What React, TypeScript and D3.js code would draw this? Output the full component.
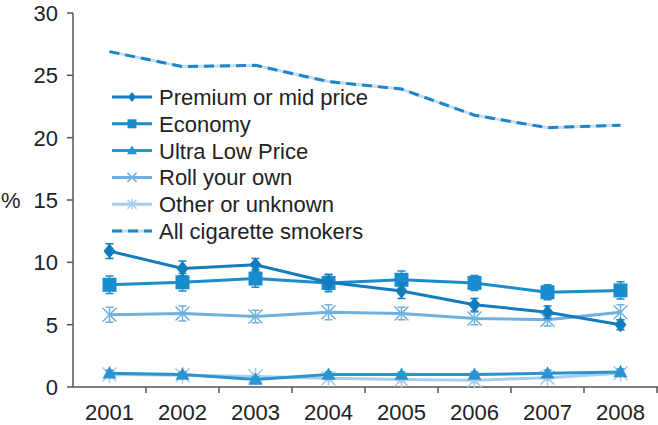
import React from "react";
import * as d3 from "d3";

const years = ["2001", "2002", "2003", "2004", "2005", "2006", "2007", "2008"];
const premium = [10.9, 9.5, 9.8, 8.4, 7.7, 6.6, 6.0, 5.0];
const premiumErr = [0.6, 0.6, 0.5, 0.6, 0.6, 0.5, 0.5, 0.4];
const economy = [8.2, 8.4, 8.7, 8.35, 8.6, 8.35, 7.6, 7.75];
const economyErr = [0.7, 0.7, 0.7, 0.7, 0.7, 0.6, 0.6, 0.7];
const ultraLow = [1.1, 1.0, 0.6, 1.0, 1.0, 1.0, 1.1, 1.2];
const ultraLowErr = [0.25, 0.2, 0.2, 0.2, 0.2, 0.2, 0.25, 0.25];
const rollOwn = [5.8, 5.9, 5.65, 6.0, 5.9, 5.5, 5.4, 6.0];
const rollOwnErr = [0.6, 0.6, 0.5, 0.6, 0.5, 0.5, 0.5, 0.6];
const otherUnknown = [1.0, 0.95, 0.85, 0.7, 0.6, 0.55, 0.75, 1.1];
const otherErr = [0.2, 0.2, 0.2, 0.2, 0.2, 0.2, 0.2, 0.2];
const allSmokers = [26.9, 25.7, 25.8, 24.5, 23.9, 21.8, 20.8, 21.0];
const yTicks = [0, 5, 10, 15, 20, 25, 30];

const legendLabels = [
  "Premium or mid price",
  "Economy",
  "Ultra Low Price",
  "Roll your own",
  "Other or unknown",
  "All cigarette smokers",
];

const W = 658, H = 425;
const left = 73, right = 657, top = 13, bottom = 387;
const FONT = "Liberation Sans, Arial, Helvetica, sans-serif";

function Marker({ type, x, y, color, s }: { type: string; x: number; y: number; color: string; s: number }) {
  if (type === "diamond") {
    return <path d={`M${x},${y - s}L${x + s * 0.8},${y}L${x},${y + s}L${x - s * 0.8},${y}Z`} fill={color} />;
  }
  if (type === "square") {
    return <rect x={x - s} y={y - s} width={2 * s} height={2 * s} fill={color} />;
  }
  if (type === "triangle") {
    return <path d={`M${x},${y - s}L${x + s},${y + s * 0.75}L${x - s},${y + s * 0.75}Z`} fill={color} />;
  }
  if (type === "x") {
    return (
      <path d={`M${x - s},${y - s}L${x + s},${y + s}M${x - s},${y + s}L${x + s},${y - s}`} stroke={color} strokeWidth={1.5} fill="none" />
    );
  }
  if (type === "asterisk") {
    return (
      <path
        d={`M${x - s},${y - s}L${x + s},${y + s}M${x - s},${y + s}L${x + s},${y - s}M${x},${y - s * 1.2}L${x},${y + s * 1.2}`}
        stroke={color}
        strokeWidth={1.5}
        fill="none"
      />
    );
  }
  return null;
}

export default function App() {
  const x = d3.scaleBand<string>().domain(years).range([left, right]).padding(0);
  const cx = (yr: string) => (x(yr) as number) + x.bandwidth() / 2;
  const y = d3.scaleLinear().domain([0, 30]).range([bottom, top]);
  const line = d3
    .line<number>()
    .x((_, i) => cx(years[i]))
    .y((d) => y(d));

  const series = [
    { vals: otherUnknown, err: otherErr, color: "#a9cceb", marker: "asterisk", s: 7 },
    { vals: rollOwn, err: rollOwnErr, color: "#6fb0de", marker: "x", s: 7 },
    { vals: ultraLow, err: ultraLowErr, color: "#2a93d0", marker: "triangle", s: 7 },
    { vals: economy, err: economyErr, color: "#1a8bcb", marker: "square", s: 7 },
    { vals: premium, err: premiumErr, color: "#137cbf", marker: "diamond", s: 7.5 },
  ];

  const legendItems = [
    { marker: "diamond", color: "#137cbf", s: 5 },
    { marker: "square", color: "#1a8bcb", s: 4.5 },
    { marker: "triangle", color: "#2a93d0", s: 5 },
    { marker: "x", color: "#6fb0de", s: 4.5 },
    { marker: "asterisk", color: "#a9cceb", s: 4.5 },
    { marker: "dash", color: "#1c86c8", s: 0 },
  ];

  return (
    <svg width={W} height={H} style={{ display: "block", position: "absolute", left: 0, top: 0 }} fontFamily={FONT}>
      <rect width={W} height={H} fill="#fff" />
      {/* axes */}
      <line x1={left} x2={left} y1={top} y2={bottom} stroke="#555" strokeWidth={1.5} />
      <line x1={left} x2={right + 1} y1={bottom} y2={bottom} stroke="#555" strokeWidth={1.5} />
      {yTicks.map((t) => (
        <g key={t}>
          <line x1={left - 6} x2={left} y1={y(t)} y2={y(t)} stroke="#555" strokeWidth={1.5} />
          <text x={left - 15} y={y(t)} dy="0.36em" textAnchor="end" fontSize={22} fill="#222">
            {t}
          </text>
        </g>
      ))}
      {years.map((yr) => (
        <g key={yr}>
          <line x1={(x(yr) as number) + x.bandwidth()} x2={(x(yr) as number) + x.bandwidth()} y1={bottom} y2={bottom + 6} stroke="#555" strokeWidth={1.5} />
          <text x={cx(yr)} y={bottom + 33} textAnchor="middle" fontSize={22} fill="#222">
            {yr}
          </text>
        </g>
      ))}
      <text x={1} y={y(15)} dy="0.36em" fontSize={22} fill="#222">
        %
      </text>

      {/* all smokers dashed */}
      <path d={line(allSmokers) as string} fill="none" stroke="#c6dbf0" strokeWidth={3} />
      <path d={line(allSmokers) as string} fill="none" stroke="#1c86c8" strokeWidth={3} strokeDasharray="10,6" />

      {series.map((sr, k) => (
        <g key={k}>
          <path d={line(sr.vals) as string} fill="none" stroke={sr.color} strokeWidth={3} />
          {sr.vals.map((v, i) => {
            const px = cx(years[i]);
            const y1 = y(v + sr.err[i]);
            const y2 = y(v - sr.err[i]);
            return (
              <g key={i}>
                <path d={`M${px},${y1}L${px},${y2}M${px - 4},${y1}L${px + 4},${y1}M${px - 4},${y2}L${px + 4},${y2}`} stroke={sr.color} strokeWidth={1.5} fill="none" />
                <Marker type={sr.marker} x={px} y={y(v)} color={sr.color} s={sr.s} />
              </g>
            );
          })}
        </g>
      ))}

      {/* legend */}
      {legendLabels.map((lab, i) => {
        const ly = 97 + i * 26.8;
        const it = legendItems[i];
        return (
          <g key={lab}>
            {it.marker === "dash" ? (
              <>
                <line x1={112} x2={152} y1={ly} y2={ly} stroke="#c6dbf0" strokeWidth={3} />
                <line x1={112} x2={152} y1={ly} y2={ly} stroke="#1c86c8" strokeWidth={3} strokeDasharray="10,6" />
              </>
            ) : (
              <>
                <line x1={112} x2={152} y1={ly} y2={ly} stroke={it.color} strokeWidth={3} />
                <Marker type={it.marker} x={132} y={ly} color={it.color} s={it.s} />
              </>
            )}
            <text x={159} y={ly} dy="0.36em" fontSize={22} fill="#222">
              {lab}
            </text>
          </g>
        );
      })}
    </svg>
  );
}
